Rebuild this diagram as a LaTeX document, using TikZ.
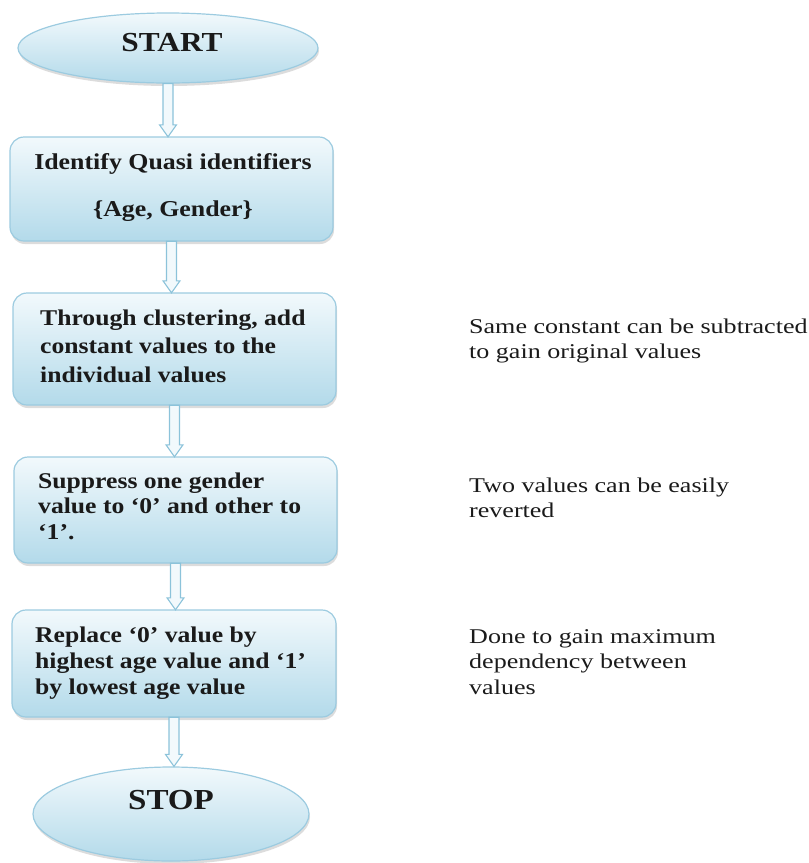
\documentclass[tikz,border=0pt]{standalone}
\usepackage{fontspec}
\setmainfont[FakeStretch=1.14]{Liberation Serif}
\newfontfamily\sidefont[FakeStretch=1.24]{Liberation Serif}
\usetikzlibrary{shapes.geometric,shadows,calc}
\definecolor{bordc}{HTML}{9CCBE0}
\definecolor{arrc}{HTML}{8CC3DA}
\definecolor{topc}{HTML}{F2F9FC}
\definecolor{botc}{HTML}{B3DAEA}
\definecolor{txt}{HTML}{1A1A1A}
\tikzset{
  boxsty/.style={draw=bordc, line width=1.2pt, rounded corners=14pt, top color=topc, bottom color=botc,
    drop shadow={shadow xshift=1pt, shadow yshift=-3pt, fill=black!30, opacity=0.45}},
  ovalsty/.style={ellipse, draw=bordc, line width=1.2pt, top color=topc, bottom color=botc,
    drop shadow={shadow xshift=1pt, shadow yshift=-3pt, fill=black!30, opacity=0.45}},
  arrsty/.style={draw=arrc, line width=1.1pt, fill=topc},
  boxtext/.style={font=\fontsize{22.5}{28}\selectfont\bfseries, text=txt, align=left, anchor=west, inner sep=0pt},
  sidetext/.style={font=\sidefont\fontsize{21}{25.5}\selectfont, text=txt, align=left, anchor=west, inner sep=0pt},
}
\newcommand\blockarrow[2]{%
  \path[arrsty] let \p1=(#1.south), \p2=(#2.north) in
    (\x1-5pt,\y1) -- (\x1-5pt,\y2+12pt) -- (\x1-8.5pt,\y2+12pt) -- (\x1,\y2) --
    (\x1+8.5pt,\y2+12pt) -- (\x1+5pt,\y2+12pt) -- (\x1+5pt,\y1) -- cycle;}
\begin{document}
\begin{tikzpicture}[x=1pt,y=-1pt]
\useasboundingbox (0,0) rectangle (809,863);
% shapes
\node[ovalsty, minimum width=300pt, minimum height=70pt] (start) at (168,48) {};
\path[boxsty] (10,137) rectangle (333,241);
\node[inner sep=0pt, minimum width=323pt, minimum height=104pt] (b1) at (171.5,189) {};
\path[boxsty] (13,293) rectangle (336,405);
\node[inner sep=0pt, minimum width=323pt, minimum height=112pt] (b2) at (174.5,349) {};
\path[boxsty] (14,457) rectangle (337,563);
\node[inner sep=0pt, minimum width=323pt, minimum height=106pt] (b3) at (175.5,510) {};
\path[boxsty] (12,610) rectangle (336,717);
\node[inner sep=0pt, minimum width=324pt, minimum height=107pt] (b4) at (174,663.5) {};
\node[ovalsty, minimum width=276pt, minimum height=94pt] (stop) at (171,814) {};
% arrows
\blockarrow{start}{b1}
\blockarrow{b1}{b2}
\blockarrow{b2}{b3}
\blockarrow{b3}{b4}
\blockarrow{b4}{stop}
% texts
\node[font=\fontsize{27.5}{30}\selectfont\bfseries, text=txt] (t0) at (172,43) {START};
\node[font=\fontsize{29}{32}\selectfont\bfseries, text=txt] (t6) at (171,800) {STOP};
\node[font=\fontsize{22.7}{47}\selectfont\bfseries, text=txt, align=center] (t1) at (173,188) {Identify Quasi identifiers\\\{Age, Gender\}};
\node[boxtext, font=\fontsize{22.5}{28.5}\selectfont\bfseries] (t2) at (40,346) {Through clustering, add\\constant values to the\\individual values};
\node[boxtext, font=\fontsize{22.5}{25.5}\selectfont\bfseries] (t3) at (38,506) {Suppress one gender\\value to `0' and other to\\`1'.};
\node[boxtext, font=\fontsize{22.5}{26}\selectfont\bfseries] (t4) at (35,663) {Replace `0' value by\\highest age value and `1'\\by lowest age value};
\node[sidetext] (s1) at (469,341) {Same constant can be subtracted\\to gain original values};
\node[sidetext] (s2) at (469,498) {Two values can be easily\\reverted};
\node[sidetext] (s3) at (469,662) {Done to gain maximum\\dependency between\\values};
\end{tikzpicture}
\end{document}
